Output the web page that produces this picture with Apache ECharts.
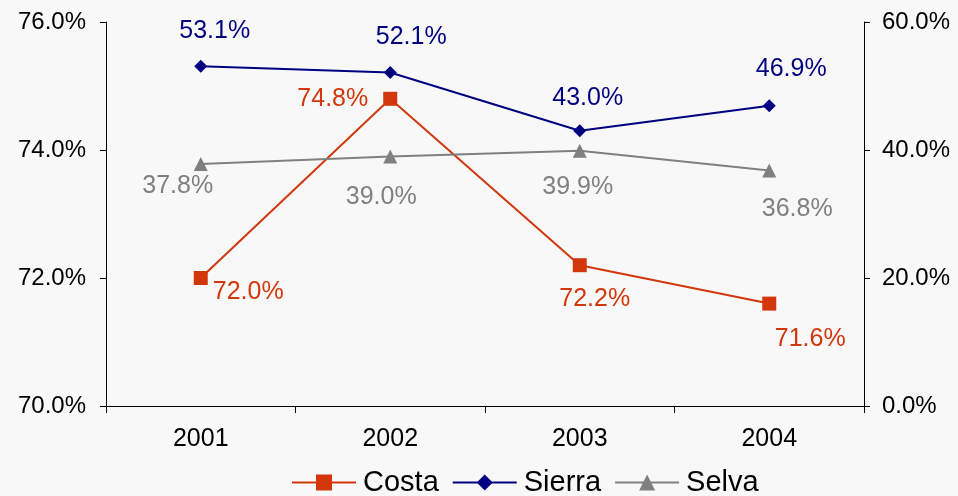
<!DOCTYPE html>
<html><head><meta charset="utf-8">
<script src="https://cdn.jsdelivr.net/npm/echarts@6/dist/echarts.min.js"></script>
<style>html,body{margin:0;padding:0;background:#f8f8f8;}#c{width:958px;height:496px;}</style>
</head><body><div id="c"></div>
<script>
const categories = ['2001', '2002', '2003', '2004'];
const costa = [72.0, 74.8, 72.2, 71.6];
const sierra = [53.1, 52.1, 43.0, 46.9];
const selva = [37.8, 39.0, 39.9, 36.8];
const leftTicks = [70, 72, 74, 76];
const rightTicks = [0, 20, 40, 60];

// label placement (styling only)
const costaLbl = [['right', [0, 14]], ['left', [-10, 0]], ['bottom', [15, 9]], ['bottom', [41, 11]]];
const sierraLbl = [['top', [14, -11]], ['top', [21, -11]], ['top', [8, -9]], ['top', [22, -13]]];
const selvaLbl = [['bottom', [-23, -2]], ['bottom', [-9, 16]], ['bottom', [-2, 12]], ['bottom', [28, 14]]];

const FONT = '"Liberation Sans", Arial, sans-serif';
function mk(vals, lbl) {
  return vals.map((v, i) => ({ value: v, label: { position: lbl[i][0], offset: lbl[i][1] } }));
}
const chart = echarts.init(document.getElementById('c'), null, { renderer: 'canvas' });
const axisCommon = {
  axisLine: { show: true, lineStyle: { color: '#000', width: 1 } },
  axisTick: { show: true, length: 6, lineStyle: { color: '#000' } },
  splitLine: { show: false },
  axisLabel: { color: '#000', fontSize: 24, fontFamily: FONT, formatter: v => v.toFixed(1) + '%' }
};
const lblStyle = { show: true, fontSize: 25, fontFamily: FONT, formatter: p => p.value.toFixed(1) + '%' };
chart.setOption({
  backgroundColor: '#f8f8f8',
  animation: false,
  grid: { left: 106, right: 94, top: 22, bottom: 90, containLabel: false },
  legend: {
    bottom: -6, left: 286, itemWidth: 64, itemHeight: 20, itemGap: 13,
    textStyle: { fontSize: 29, fontFamily: FONT, color: '#000', padding: [0, 0, 0, 2] },
    data: ['Costa', 'Sierra', 'Selva']
  },
  xAxis: {
    type: 'category', data: categories, boundaryGap: true,
    axisLine: { lineStyle: { color: '#000' } },
    axisTick: { show: true, length: 7, lineStyle: { color: '#000' } },
    axisLabel: { color: '#000', fontSize: 25, fontFamily: FONT, margin: 21 }
  },
  yAxis: [
    Object.assign({ type: 'value', min: leftTicks[0], max: leftTicks[leftTicks.length - 1], interval: leftTicks[1] - leftTicks[0], position: 'left' }, axisCommon,
      { axisLabel: Object.assign({}, axisCommon.axisLabel, { margin: 20 }) }),
    Object.assign({ type: 'value', min: rightTicks[0], max: rightTicks[rightTicks.length - 1], interval: rightTicks[1] - rightTicks[0], position: 'right' }, axisCommon,
      { axisLabel: Object.assign({}, axisCommon.axisLabel, { margin: 18 }) })
  ],
  series: [
    {
      name: 'Costa', type: 'line', yAxisIndex: 0, data: mk(costa, costaLbl),
      symbol: 'rect', symbolSize: 14, color: '#d2370c',
      lineStyle: { width: 2, color: '#d2370c' }, itemStyle: { color: '#d2370c' },
      label: Object.assign({ color: '#d2370c' }, lblStyle)
    },
    {
      name: 'Sierra', type: 'line', yAxisIndex: 1, data: mk(sierra, sierraLbl),
      symbol: 'diamond', symbolSize: 13, color: '#000080',
      lineStyle: { width: 2, color: '#000080' }, itemStyle: { color: '#000080' },
      label: Object.assign({ color: '#000080' }, lblStyle)
    },
    {
      name: 'Selva', type: 'line', yAxisIndex: 1, data: mk(selva, selvaLbl),
      symbol: 'triangle', symbolSize: 14, color: '#808080',
      lineStyle: { width: 2, color: '#808080' }, itemStyle: { color: '#808080' },
      label: Object.assign({ color: '#808080' }, lblStyle)
    }
  ]
});
</script></body></html>
